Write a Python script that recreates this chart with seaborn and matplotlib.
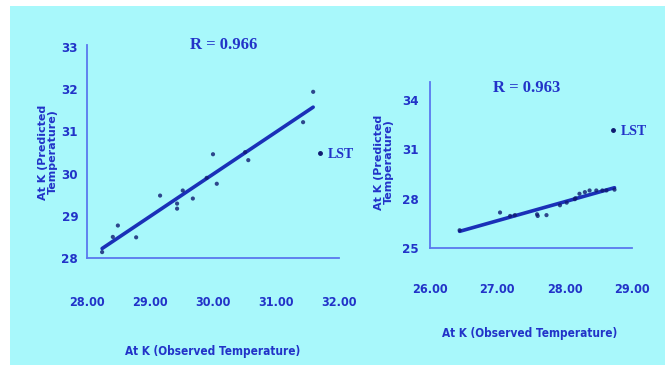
import matplotlib
matplotlib.use("Agg")
import matplotlib.pyplot as plt
import matplotlib.patches as mpatches
from matplotlib import font_manager
import seaborn as sns
import pandas as pd

# ---- data ----
obs_left = [28.24, 28.41, 28.49, 28.78, 29.16, 29.43, 29.43, 29.52, 29.68,
            29.90, 30.00, 30.06, 30.51, 30.56, 31.43, 31.59]
pred_left = [28.14, 28.50, 28.77, 28.49, 29.48, 29.17, 29.29, 29.60, 29.41,
             29.90, 30.46, 29.76, 30.51, 30.32, 31.22, 31.94]

obs_right = [26.44, 27.04, 27.19, 27.26, 27.59, 27.60, 27.73, 27.93, 28.03,
             28.15, 28.16, 28.22, 28.30, 28.37, 28.47, 28.56, 28.62, 28.74]
pred_right = [26.08, 27.16, 26.95, 27.00, 27.05, 26.95, 27.00, 27.60, 27.76,
              27.97, 28.03, 28.30, 28.40, 28.50, 28.50, 28.50, 28.50, 28.55]

left_xticks = [28.0, 29.0, 30.0, 31.0, 32.0]
left_yticks = [28, 29, 30, 31, 32, 33]
right_xticks = [26.0, 27.0, 28.0, 29.0]
right_yticks = [25, 28, 31, 34]

r_left = "R = 0.966"
r_right = "R = 0.963"
series_name = "LST"
xlabel = "At K (Observed Temperature)"
ylabel = "At K (Predicted\nTemperature)"

# ---- style ----
sns.set_style("white")
plt.rcParams["font.family"] = ["DejaVu Sans"]

_fonts = font_manager.fontManager.ttflist
_names = {f.name for f in _fonts}
if "Liberation Sans Narrow" in _names:
    NARROW = dict(family="Liberation Sans Narrow")
elif any(f.name == "DejaVu Sans" and f.stretch in ("condensed", "semi-condensed")
         for f in _fonts):
    NARROW = dict(family="DejaVu Sans", stretch="condensed")
else:
    NARROW = dict(family="Liberation Serif")

BG = "#a8f8fb"
TXT = "#2233c8"
AX = "#5a78ee"
PT = "#0f1a70"
LN = "#1a30b8"

W, H = 669, 369
fig = plt.figure(figsize=(W / 100, H / 100), dpi=100, facecolor="white")
fig.patches.append(mpatches.Rectangle((10 / W, 1 - 365 / H), 655 / W, 359 / H,
                                      transform=fig.transFigure,
                                      facecolor=BG, edgecolor="none", zorder=-10))


def px_axes(x0, x1, y0, y1):
    return fig.add_axes([x0 / W, 1 - y0 / H, (x1 - x0) / W, (y0 - y1) / H])


def style_axes(ax, xt, yt, xlim, ylim, xpad, ypad):
    ax.set_facecolor("none")
    for s in ["top", "right"]:
        ax.spines[s].set_visible(False)
    for s in ["left", "bottom"]:
        ax.spines[s].set_color(AX)
        ax.spines[s].set_linewidth(1.3)
    ax.set_xlim(*xlim)
    ax.set_ylim(*ylim)
    ax.set_xticks(xt)
    ax.set_xticklabels([f"{v:.2f}" for v in xt])
    ax.set_yticks(yt)
    ax.set_yticklabels([f"{v:d}" for v in yt])
    ax.tick_params(axis="x", direction="out", length=3.5, width=1.2, color=AX,
                   labelcolor=TXT, pad=xpad)
    ax.tick_params(axis="y", direction="out", length=2, width=1.2, color=AX,
                   labelcolor=TXT, pad=ypad)
    for lab in ax.get_xticklabels():
        lab.set_fontproperties(font_manager.FontProperties(weight="bold", size=9, **NARROW))
    for lab in ax.get_yticklabels():
        lab.set_fontproperties(font_manager.FontProperties(weight="bold", size=9.5, **NARROW))
    ax.set_xlabel("")
    ax.set_ylabel("")


def panel(ax, x, y):
    df = pd.DataFrame({"obs": x, "pred": y})
    sns.regplot(data=df, x="obs", y="pred", ax=ax, ci=None, truncate=True,
                scatter_kws=dict(s=9, color=PT, zorder=3, edgecolor="none"),
                line_kws=dict(color=LN, lw=2.6, zorder=2))
    ax.plot([], [], "o", color=PT, ms=2.5, label=series_name)


LEG = dict(frameon=False, handlelength=0.5, handletextpad=0.3, borderaxespad=0,
           prop=dict(family="Liberation Serif", weight="bold", size=10),
           labelcolor=TXT)

# left panel
axL = px_axes(87, 339, 258, 45)
panel(axL, obs_left, pred_left)
style_axes(axL, left_xticks, left_yticks, (28.0, 32.0), (28.0, 33.05), 24, 4.3)
axL.legend(loc="center left", bbox_to_anchor=(0.89, 0.485), **LEG)

# right panel
axR = px_axes(430, 632, 248, 82)
panel(axR, obs_right, pred_right)
style_axes(axR, right_xticks, right_yticks, (26.0, 29.0), (25.0, 35.1), 22, 6)
axR.legend(loc="center left", bbox_to_anchor=(0.86, 0.70), **LEG)

# titles (R values)
fig.text(224 / W, 1 - 45 / H, r_left, ha="center", va="center", color=TXT,
         family="Liberation Serif", weight="bold", size=12)
fig.text(527 / W, 1 - 88 / H, r_right, ha="center", va="center", color=TXT,
         family="Liberation Serif", weight="bold", size=12)

# axis labels
fig.text(213 / W, 1 - 351 / H, xlabel, ha="center", va="center", color=TXT,
         weight="bold", size=8.5, **NARROW)
fig.text(530 / W, 1 - 333 / H, xlabel, ha="center", va="center", color=TXT,
         weight="bold", size=8.5, **NARROW)
fig.text(48 / W, 1 - 152 / H, ylabel, ha="center", va="center", color=TXT,
         weight="bold", size=8, rotation=90, linespacing=1.05)
fig.text(384 / W, 1 - 162 / H, ylabel, ha="center", va="center", color=TXT,
         weight="bold", size=8, rotation=90, linespacing=1.05)

fig.savefig("out.png", dpi=100, facecolor="white")
